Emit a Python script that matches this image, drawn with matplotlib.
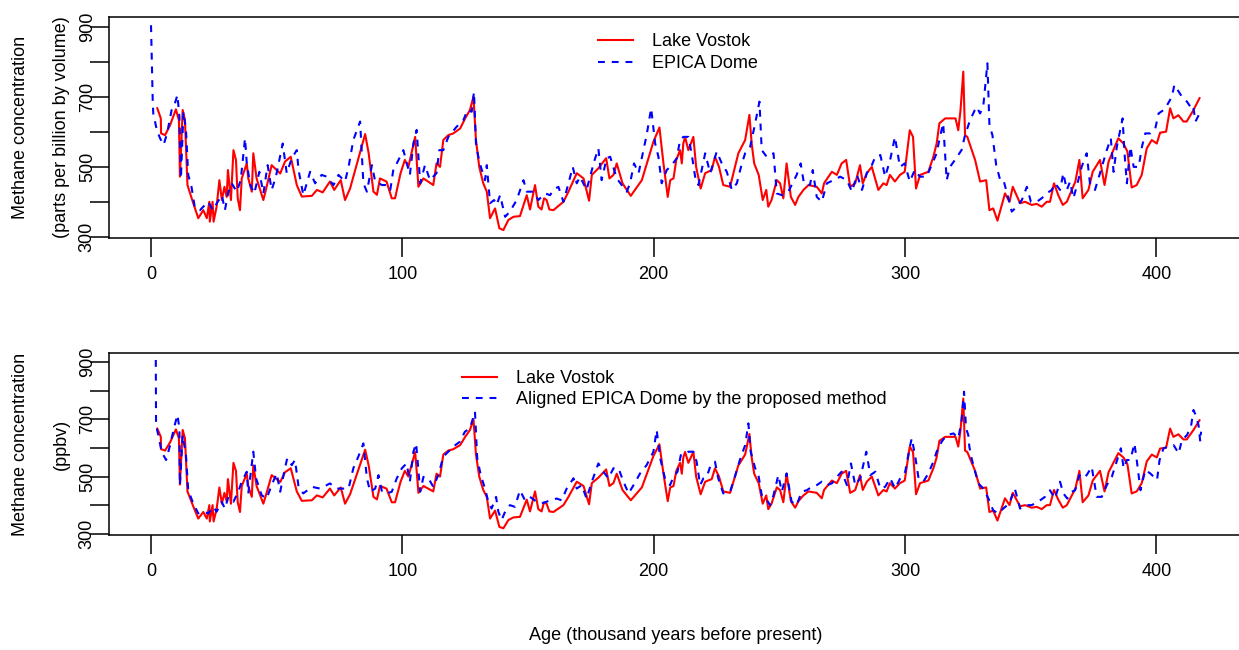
import matplotlib
matplotlib.use("Agg")
import matplotlib.pyplot as plt

plt.rcParams["font.family"] = ["Liberation Sans", "DejaVu Sans"]

# Lake Vostok methane record (thousand years BP, ppbv)
vostok_age = [
    2.5, 3.9, 4.0, 5.6, 7.6, 9.9, 11.1, 11.5, 12.6, 13.5, 14.5, 16.8, 18.8, 20.8,
    22.2, 23.2, 23.4, 24.5, 24.9, 26.1, 27.2, 28.2, 29.2, 30.1, 30.6, 31.8, 32.8,
    33.8, 34.5, 35.4, 36.1, 38.1, 38.7, 40.1, 40.7, 42.0, 44.7, 46.0, 48.0, 51.4,
    53.3, 55.6, 58.0, 60.0, 64.0, 66.0, 68.3, 71.2, 72.9, 75.5, 77.2, 79.2, 85.2,
    86.6, 88.5, 89.9, 91.1, 93.7, 95.8, 97.1, 99.3, 101.0, 102.4, 105.1, 106.4,
    108.4, 112.3, 113.6, 115.0, 116.3, 118.3, 120.3, 123.0, 125.0, 126.9, 128.3,
    129.3, 130.6, 132.2, 133.6, 134.9, 136.9, 138.6, 140.2, 142.2, 144.2, 146.8,
    149.5, 150.8, 152.8, 154.1, 155.4, 156.4, 157.4, 158.5, 160.1, 164.1, 166.1,
    169.4, 172.1, 174.3, 175.4, 178.0, 181.1, 182.4, 184.0, 185.3, 187.6, 190.9,
    195.3, 199.9, 202.3, 203.9, 205.6, 206.6, 207.9, 209.0, 210.5, 211.2, 211.8,
    212.5, 213.8, 215.8, 216.9, 218.7, 220.5, 223.1, 224.4, 226.0, 227.7, 230.4,
    233.7, 236.4, 238.1, 239.0, 240.0, 241.8, 243.4, 244.8, 245.6, 246.9, 249.0,
    250.3, 251.6, 252.9, 254.6, 256.3, 257.6, 259.6, 261.6, 264.9, 266.9, 267.8,
    270.9, 272.9, 274.8, 276.6, 278.2, 280.2, 282.1, 283.2, 284.8, 286.8, 289.4,
    291.4, 292.7, 294.0, 296.0, 298.0, 299.9, 301.9, 303.2, 304.4, 306.0, 309.3,
    311.3, 312.6, 313.7, 316.0, 320.1, 321.2, 322.1, 323.2, 323.9, 324.8, 327.9,
    329.9, 332.3, 333.6, 335.1, 336.8, 339.8, 341.6, 342.9, 345.8, 347.8, 350.4,
    352.4, 354.4, 356.4, 357.7, 359.3, 361.0, 362.8, 364.4, 366.4, 367.8, 369.4,
    370.7, 373.0, 374.7, 377.6, 379.4, 381.0, 382.9, 384.9, 386.9, 388.5, 390.2,
    392.2, 394.2, 396.2, 398.2, 400.2, 401.5, 403.9, 405.5, 406.8, 408.8, 410.8,
    412.1, 414.8, 417.2,
]
vostok_ch4 = [
    668, 639, 596, 591, 620, 665, 634, 472, 663, 634, 448, 396, 353, 376,
    353, 400, 343, 400, 343, 386, 462, 405, 443, 414, 491, 405, 548,
    520, 410, 376, 467, 510, 467, 429, 539, 467, 405, 443, 505, 481,
    515, 529, 448, 415, 417, 434, 427, 458, 434, 462, 405, 438, 594,
    539, 429, 420, 467, 458, 410, 410, 482, 520, 500, 586, 443,
    467, 448, 510, 500, 577, 591, 596, 610, 639, 663, 701,
    577, 500, 453, 429, 353, 381, 324, 319, 348, 357, 359,
    419, 378, 448, 386, 378, 410, 405, 378, 376, 400, 429,
    482, 467, 403, 477, 496, 525, 467, 477, 510, 453, 417,
    462, 572, 613, 510, 414, 462, 467, 520, 548, 510, 567,
    586, 548, 586, 500, 438, 482, 491, 529, 500, 448, 443,
    539, 577, 649, 567, 510, 477, 405, 434, 386, 405, 462,
    453, 410, 510, 414, 391, 414, 434, 448, 443, 424, 453,
    486, 477, 510, 520, 443, 453, 505, 453, 482, 500, 434,
    453, 448, 477, 458, 477, 486, 605, 586, 438, 477, 486,
    529, 567, 625, 639, 639, 605, 663, 773, 591, 586, 520,
    458, 462, 376, 381, 346, 424, 400, 443, 396, 400, 391,
    394, 386, 400, 400, 453, 419, 391, 400, 434, 458, 520,
    410, 434, 486, 520, 448, 515, 548, 582, 567, 544, 441,
    448, 477, 553, 577, 567, 598, 601, 668, 639, 648, 630,
    630, 663, 697,
]

# EPICA Dome C record on its own time scale
epica_age = [
    0.0, 0.7, 0.9, 2.3, 3.6, 5.0, 6.4, 8.2, 9.5, 10.5, 11.3, 11.9, 12.9, 13.9,
    14.8, 16.1, 17.5, 19.5, 20.8, 22.8, 24.6, 26.2, 28.2, 29.4, 30.8, 32.1, 34.1,
    35.7, 37.4, 38.1, 39.5, 41.1, 43.1, 44.7, 46.4, 48.0, 49.7, 52.4, 54.0, 56.0,
    58.0, 58.7, 60.6, 63.3, 65.3, 67.9, 69.9, 72.6, 74.6, 77.2, 78.6, 80.5, 83.2,
    84.5, 85.9, 87.9, 89.2, 91.9, 93.9, 95.2, 96.5, 97.1, 99.1, 100.4, 103.0,
    104.4, 105.7, 107.1, 109.0, 111.0, 113.6, 114.7, 116.3, 118.3, 121.6, 124.3,
    125.9, 127.6, 128.5, 129.3, 130.6, 132.9, 133.6, 134.9, 136.5, 137.5, 138.9,
    140.9, 142.8, 145.5, 148.2, 149.5, 152.2, 154.1, 156.8, 158.8, 160.1, 162.1,
    164.1, 166.1, 167.8, 169.4, 170.7, 173.3, 176.3, 178.0, 179.3, 181.3, 182.7,
    185.3, 189.3, 190.6, 192.2, 194.0, 197.2, 199.0, 200.6, 201.9, 203.2, 205.2,
    207.2, 209.2, 210.5, 211.8, 213.8, 215.1, 216.5, 217.8, 219.1, 220.5, 222.5,
    225.1, 227.1, 229.1, 231.1, 233.1, 235.1, 236.4, 238.4, 240.4, 242.1, 243.0,
    245.0, 247.7, 249.0, 251.0, 253.6, 256.9, 258.5, 259.8, 262.2, 263.3, 264.9,
    266.9, 268.9, 271.6, 274.2, 276.9, 278.9, 280.9, 282.9, 284.8, 286.8, 288.2,
    290.2, 292.1, 294.1, 296.0, 298.0, 299.9, 301.9, 303.9, 305.9, 308.6, 310.6,
    312.6, 313.9, 315.2, 316.6, 317.9, 319.9, 322.5, 323.9, 325.9, 327.8, 328.5,
    329.9, 331.2, 332.8, 333.6, 334.8, 336.3, 337.9, 339.2, 340.8, 342.5, 344.5,
    346.5, 348.5, 350.1, 352.4, 354.4, 356.4, 358.4, 359.7, 361.7, 363.0, 364.4,
    365.7, 367.0, 368.3, 370.3, 372.3, 373.6, 375.6, 377.6, 380.3, 381.9, 383.0,
    384.3, 386.6, 387.3, 388.3, 389.7, 391.0, 393.0, 394.3, 395.6, 397.6, 399.6,
    400.9, 402.9, 404.3, 406.2, 407.2, 408.9, 410.2, 412.2, 413.6, 414.6, 415.6,
    417.2,
]
epica_ch4 = [
    906, 682, 653, 606, 582, 563, 596, 663, 682, 706, 644, 467, 658, 606,
    477, 443, 381, 376, 386, 400, 376, 396, 419, 376, 429, 453, 429,
    462, 582, 510, 448, 424, 486, 424, 505, 434, 472, 567, 482, 525,
    548, 491, 419, 486, 453, 477, 472, 448, 477, 458, 500, 577, 630,
    453, 429, 505, 458, 448, 448, 434, 496, 500, 529, 548, 477,
    567, 606, 453, 505, 462, 482, 548, 548, 586, 615, 634,
    663, 658, 715, 567, 515, 462, 505, 396, 405, 391, 419,
    357, 372, 405, 462, 429, 429, 405, 424, 419, 434, 443,
    400, 453, 500, 453, 472, 434, 515, 553, 462, 525, 529,
    467, 429, 453, 510, 482, 591, 668, 567, 529, 453, 491,
    505, 525, 577, 586, 586, 539, 472, 448, 491, 539, 482,
    544, 510, 486, 434, 453, 510, 539, 558, 625, 687, 548,
    529, 539, 424, 419, 429, 477, 510, 453, 448, 491, 414,
    400, 453, 462, 472, 462, 429, 477, 434, 482, 505, 529,
    534, 472, 520, 586, 500, 510, 458, 491, 472, 472, 505,
    539, 586, 625, 462, 500, 520, 548, 591, 634, 663, 672,
    653, 677, 797, 620, 591, 505, 462, 462, 419, 372, 386,
    405, 443, 400, 400, 410, 424, 434, 453, 434, 482, 434,
    458, 410, 443, 500, 539, 453, 434, 482, 548, 582, 486,
    558, 639, 544, 453, 558, 500, 500, 558, 596, 596, 610,
    653, 663, 677, 701, 735, 716, 701, 687, 672, 677, 630,
    653,
]

# EPICA Dome C record after alignment to the Vostok time scale
aligned_age = [
    1.9, 2.0, 2.9, 4.2, 6.0, 7.6, 9.1, 10.5, 11.3, 11.5, 12.6, 13.9, 14.8, 16.8,
    18.8, 20.8, 22.8, 24.8, 26.1, 28.1, 29.4, 30.8, 32.8, 34.7, 36.1, 38.1, 38.7,
    40.7, 41.8, 44.0, 46.0, 48.0, 50.0, 51.4, 53.3, 54.2, 56.0, 57.3, 58.7, 60.6,
    64.0, 67.3, 71.2, 73.9, 76.6, 78.6, 80.5, 82.5, 84.5, 85.9, 87.2, 89.2, 90.5,
    91.9, 93.9, 95.8, 97.8, 99.8, 101.7, 103.0, 104.4, 105.5, 107.1, 108.4, 110.4,
    112.3, 114.3, 116.3, 118.3, 120.3, 122.9, 124.9, 126.9, 128.9, 129.8, 131.2,
    132.9, 134.2, 135.5, 137.3, 138.2, 139.5, 140.9, 142.8, 144.8, 146.8, 148.8,
    150.8, 153.4, 155.4, 157.4, 158.8, 161.4, 163.4, 165.4, 168.1, 169.4, 171.4,
    173.3, 175.4, 178.0, 180.0, 182.0, 184.0, 186.0, 188.0, 190.0, 192.0, 194.6,
    197.2, 199.9, 201.2, 202.6, 204.5, 206.5, 207.9, 209.5, 210.8, 211.8, 213.8,
    215.8, 217.1, 218.5, 219.8, 221.1, 222.7, 224.4, 225.7, 227.7, 230.4, 232.3,
    234.3, 236.4, 237.7, 238.6, 240.4, 241.7, 243.0, 244.7, 246.3, 247.7, 249.6,
    251.0, 252.9, 254.9, 256.9, 258.9, 260.9, 262.9, 264.9, 266.9, 268.9, 270.9,
    272.9, 274.8, 276.9, 278.5, 280.2, 282.2, 284.6, 286.2, 288.2, 290.2, 292.1,
    294.1, 296.1, 298.1, 300.1, 301.8, 302.7, 304.0, 305.4, 307.3, 309.3, 311.3,
    312.6, 314.6, 316.6, 319.3, 321.2, 322.5, 323.5, 324.3, 325.2, 325.6, 326.5,
    327.9, 329.2, 331.2, 333.2, 335.1, 337.1, 339.1, 341.5, 343.7, 345.8, 348.4,
    350.4, 353.0, 355.7, 357.7, 359.7, 361.7, 363.0, 364.6, 366.4, 367.7, 369.4,
    370.7, 372.3, 374.3, 376.3, 378.3, 380.3, 382.3, 384.0, 385.9, 387.0, 388.3,
    389.7, 391.3, 392.3, 393.7, 395.6, 397.6, 400.3, 401.3, 402.9, 404.9, 406.9,
    408.9, 410.2, 412.2, 413.8, 414.8, 415.9, 416.8, 417.5, 417.8,
]
aligned_ch4 = [
    908, 680, 645, 587, 558, 610, 669, 716, 669, 470, 645, 575, 452, 406,
    371, 377, 371, 395, 377, 412, 388, 429, 412, 447, 482, 517, 441,
    587, 494, 435, 423, 470, 511, 447, 529, 564, 540, 558, 464, 441,
    464, 458, 476, 458, 458, 458, 529, 570, 616, 494, 447, 458, 505,
    447, 441, 447, 494, 529, 546, 482, 587, 616, 447, 499, 494,
    464, 505, 570, 587, 605, 622, 657, 669, 727, 564, 505,
    458, 412, 388, 429, 377, 348, 377, 400, 394, 452, 417,
    429, 412, 406, 412, 417, 423, 417, 458, 494, 458, 470,
    423, 482, 546, 517, 494, 529, 529, 482, 441, 470, 511,
    540, 587, 663, 564, 494, 470, 499, 517, 575, 575, 587,
    587, 552, 470, 494, 499, 540, 552, 494, 441, 447, 499,
    558, 610, 686, 587, 529, 505, 435, 423, 400, 435, 505,
    447, 511, 412, 400, 447, 452, 464, 470, 482, 470, 476,
    499, 517, 470, 546, 470, 494, 587, 505, 517, 458, 464,
    494, 458, 494, 517, 599, 634, 575, 494, 482, 511, 552,
    587, 622, 645, 651, 634, 692, 797, 669, 645, 605, 564,
    517, 476, 458, 423, 382, 371, 388, 406, 458, 388, 400,
    400, 412, 429, 452, 423, 482, 441, 423, 447, 452, 505,
    494, 505, 534, 429, 429, 470, 499, 546, 599, 529, 558,
    558, 616, 552, 452, 523, 511, 488, 558, 599, 605, 610,
    581, 628, 645, 675, 733, 710, 680, 622, 657,
]

age_ticks = [0, 100, 200, 300, 400]
ch4_ticks = [300, 400, 500, 600, 700, 800, 900]
ch4_labels = ["300", "", "500", "", "700", "", "900"]

FS = 13
W, H = 1239, 650


def px(x, y):
    return x / W, 1 - y / H


def draw_panel(ax, blue_age, blue_ch4, blue_label, ylim, legend_xy, spacing):
    ax.plot(vostok_age, vostok_ch4, color="red", lw=1.5, label="Lake Vostok")
    ax.plot(blue_age, blue_ch4, color="blue", lw=1.5,
            linestyle=(0, (3.3, 3.3)), label=blue_label)
    ax.set_xlim(-16.6, 434.5)
    ax.set_ylim(*ylim)
    ax.set_xticks(age_ticks)
    ax.set_xticklabels([str(t) for t in age_ticks])
    ax.set_yticks(ch4_ticks)
    ax.set_yticklabels(ch4_labels)
    ax.tick_params(direction="out", length=13.7, width=1.1, labelsize=FS)
    ax.tick_params(axis="x", pad=6.5)
    ax.tick_params(axis="y", pad=-4.0)
    for t in ax.get_yticklabels():
        t.set_rotation(90)
        t.set_va("center")
    for s in ax.spines.values():
        s.set_linewidth(1.1)
    ax.legend(loc="upper left", bbox_to_anchor=px(*legend_xy),
              bbox_transform=ax.figure.transFigure, frameon=False,
              borderpad=0, borderaxespad=0, handlelength=1.94,
              handletextpad=1.03, labelspacing=spacing, fontsize=FS)


fig = plt.figure(figsize=(12.39, 6.5), dpi=100)

ax1 = fig.add_axes([109.3 / W, 1 - 237.7 / H, (1243 - 109.3) / W, 221.0 / H])
draw_panel(ax1, epica_age, epica_ch4, "EPICA Dome", (297.1, 930.4),
           (598, 33.0), 0.3)

ax2 = fig.add_axes([109.3 / W, 1 - 535.0 / H, (1243 - 109.3) / W, 182.3 / H])
draw_panel(ax2, aligned_age, aligned_ch4,
           "Aligned EPICA Dome by the proposed method", (295.5, 933.5),
           (462, 370.5), 0.22)

fig.text(*px(21, 127), "Methane concentration", rotation=90,
         ha="center", va="center", fontsize=FS)
fig.text(*px(61, 127), "(parts per billion by volume)", rotation=90,
         ha="center", va="center", fontsize=FS)
fig.text(*px(21, 444), "Methane concentration", rotation=90,
         ha="center", va="center", fontsize=FS)
fig.text(*px(61, 444), "(ppbv)", rotation=90,
         ha="center", va="center", fontsize=FS)
fig.text(*px(676, 636), "Age (thousand years before present)",
         ha="center", va="center", fontsize=FS)

fig.savefig("out.png", dpi=100)
